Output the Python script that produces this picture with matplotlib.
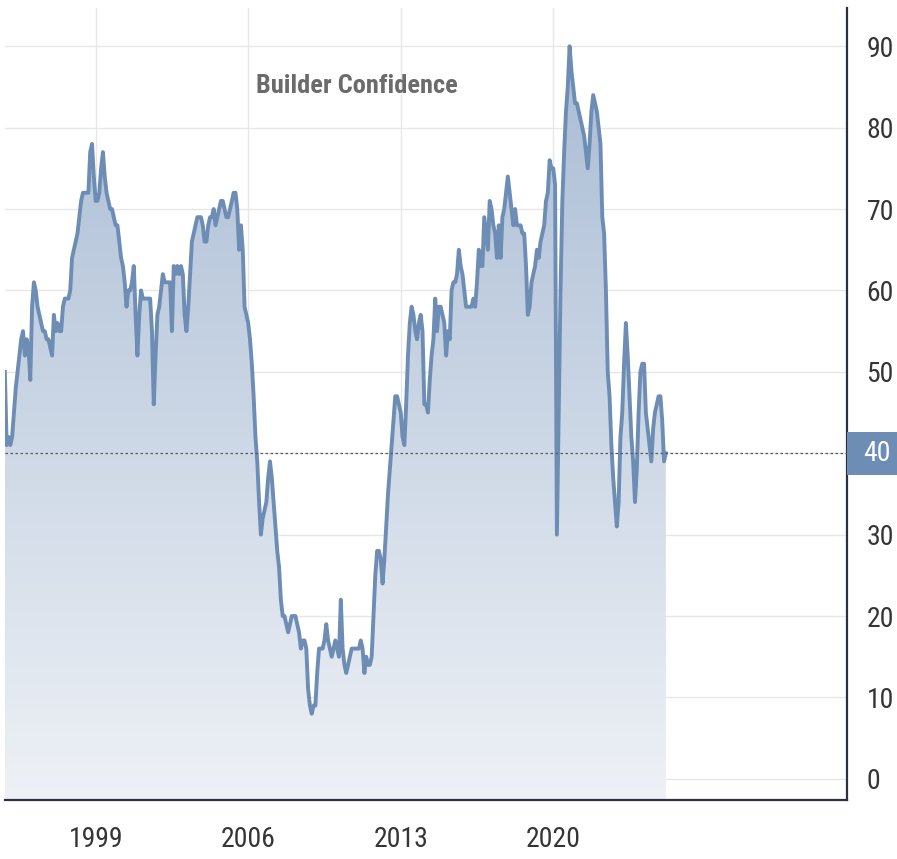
import numpy as np
import matplotlib
matplotlib.use("Agg")
import matplotlib.pyplot as plt
from matplotlib import font_manager
from matplotlib.colors import LinearSegmentedColormap
from matplotlib.patches import Rectangle
import matplotlib.transforms as mtransforms

# NAHB builder confidence, monthly, Nov 1994 .. Mar 2025
start_year = 1994
start_month = 11
hmi_1994 = [50, 41]
hmi_1995 = [42, 41, 42, 45, 48, 50, 52, 54, 55, 52, 54, 53]
hmi_1996 = [49, 58, 61, 60, 58, 57, 56, 55, 55, 54, 54, 53]
hmi_1997 = [52, 57, 55, 56, 55, 55, 58, 59, 59, 59, 60, 64]
hmi_1998 = [65, 66, 67, 69, 71, 72, 72, 72, 72, 77, 78, 74]
hmi_1999 = [71, 71, 72, 75, 77, 74, 72, 71, 70, 70, 69, 68]
hmi_2000 = [68, 66, 64, 63, 61, 58, 60, 60, 61, 63, 57, 52]
hmi_2001 = [57, 60, 59, 59, 59, 59, 59, 55, 46, 52, 57, 58]
hmi_2002 = [60, 62, 61, 61, 61, 61, 55, 63, 62, 63, 62, 63]
hmi_2003 = [62, 57, 55, 58, 62, 66, 67, 68, 69, 69, 69, 68]
hmi_2004 = [66, 66, 68, 69, 69, 70, 68, 69, 70, 71, 71, 70]
hmi_2005 = [69, 69, 70, 71, 72, 72, 70, 65, 68, 65, 58, 57]
hmi_2006 = [56, 54, 51, 47, 42, 39, 34, 30, 32, 33, 34, 37]
hmi_2007 = [39, 37, 34, 31, 28, 26, 22, 20, 20, 19, 18, 19]
hmi_2008 = [20, 20, 20, 19, 18, 16, 17, 17, 16, 11, 9, 8]
hmi_2009 = [9, 9, 13, 16, 16, 16, 17, 19, 17, 16, 15, 16]
hmi_2010 = [17, 16, 15, 22, 16, 14, 13, 14, 15, 16, 16, 16]
hmi_2011 = [16, 16, 17, 16, 13, 15, 14, 14, 15, 20, 25, 28]
hmi_2012 = [28, 27, 24, 27, 31, 35, 38, 41, 44, 47, 47, 46]
hmi_2013 = [45, 42, 41, 46, 52, 56, 58, 57, 55, 54, 56, 57]
hmi_2014 = [55, 46, 46, 45, 49, 52, 54, 59, 55, 58, 58, 57]
hmi_2015 = [56, 52, 55, 54, 60, 61, 61, 62, 65, 63, 62, 60]
hmi_2016 = [58, 58, 58, 58, 59, 58, 61, 65, 63, 63, 69, 67]
hmi_2017 = [65, 71, 70, 68, 67, 64, 68, 64, 69, 70, 72, 74]
hmi_2018 = [72, 70, 68, 70, 68, 68, 68, 67, 67, 63, 57, 58]
hmi_2019 = [61, 62, 63, 65, 64, 66, 67, 68, 71, 72, 76, 75]
hmi_2020 = [75, 73, 30, 45, 60, 71, 77, 82, 85, 90, 87, 85]
hmi_2021 = [83, 83, 82, 81, 80, 79, 77, 75, 78, 82, 84, 83]
hmi_2022 = [82, 80, 78, 69, 67, 60, 50, 47, 41, 37, 34, 31]
hmi_2023 = [34, 42, 45, 51, 56, 52, 47, 42, 39, 34, 38, 45]
hmi_2024 = [50, 51, 51, 45, 43, 41, 39, 43, 45, 46, 47, 47]
hmi_2025 = [44, 39, 40]

last_value = 40
year_ticks = [1999, 2006, 2013, 2020]
value_ticks = [0, 10, 20, 30, 40, 50, 60, 70, 80, 90]
title = "Builder Confidence"

values = np.array(hmi_1994 + hmi_1995 + hmi_1996 + hmi_1997 + hmi_1998 + hmi_1999
                  + hmi_2000 + hmi_2001 + hmi_2002 + hmi_2003 + hmi_2004 + hmi_2005
                  + hmi_2006 + hmi_2007 + hmi_2008 + hmi_2009 + hmi_2010 + hmi_2011
                  + hmi_2012 + hmi_2013 + hmi_2014 + hmi_2015 + hmi_2016 + hmi_2017
                  + hmi_2018 + hmi_2019 + hmi_2020 + hmi_2021 + hmi_2022 + hmi_2023
                  + hmi_2024 + hmi_2025, dtype=float)
t = start_year + (start_month - 1) / 12 + np.arange(len(values)) / 12

# the original uses a narrow face; take whatever condensed font is around
fonts = font_manager.fontManager.ttflist
names = {f.name for f in fonts}
stretch = "normal"
if "Roboto Condensed" in names:
    family = "Roboto Condensed"
elif "Liberation Sans Narrow" in names:
    family = "Liberation Sans Narrow"
elif any(f.name == "DejaVu Sans" and "ondensed" in str(f.stretch) for f in fonts):
    family, stretch = "DejaVu Sans", "condensed"
else:
    family = "Roboto" if "Roboto" in names else "DejaVu Sans"
plt.rcParams["font.family"] = [family, "DejaVu Sans"]
plt.rcParams["font.stretch"] = stretch
lab_size = 20 if family != "Roboto" else 18

line_col = "#6d8db5"
xmin, xmax = 1994.84, 2033.48
ymin, ymax = -2.6, 94.7

fig = plt.figure(figsize=(8.97, 8.59), dpi=100)
ax = fig.add_axes([5 / 897, 59 / 859, 842 / 897, 792 / 859])

ax.set_xlim(xmin, xmax)
ax.set_ylim(ymin, ymax)

# gradient area under the line
fill = ax.fill_between(t, values, ymin, facecolor="none", edgecolor="none")
cmap = LinearSegmentedColormap.from_list("area", ["#eef1f6", "#a6bad3"])
grad = np.linspace(0, 1, 256).reshape(-1, 1)
im = ax.imshow(grad, cmap=cmap, origin="lower", aspect="auto",
               extent=[xmin, xmax, ymin, ymax], zorder=1)
im.set_clip_path(fill.get_paths()[0], transform=ax.transData)

ax.plot(t, values, color=line_col, lw=2.8, solid_joinstyle="round", zorder=3)

ax.axhline(last_value, color="#555a66", lw=0.9, ls=(0, (2, 2)), zorder=4)

ax.set_xticks(year_ticks)
ax.set_xticklabels([str(y) for y in year_ticks])
ax.set_yticks(value_ticks)
# the 40 label sits under the last-value box
ax.set_yticklabels(["" if v == last_value else str(v) for v in value_ticks])
ax.yaxis.tick_right()
ax.grid(True, color="#e7e7e7", lw=1)
ax.set_axisbelow(True)
ax.tick_params(axis="both", length=0, labelsize=lab_size, labelcolor="#353535")
ax.tick_params(axis="x", pad=19)
ax.tick_params(axis="y", pad=14)

for s in ["left", "top"]:
    ax.spines[s].set_visible(False)
for s in ["right", "bottom"]:
    ax.spines[s].set_color("#2d3040")
    ax.spines[s].set_linewidth(1.6)

# last value marker on the axis
trans = mtransforms.blended_transform_factory(ax.transAxes, ax.transData)
ax.add_patch(Rectangle((1.0, last_value - 2.65), 0.06, 5.3, transform=trans,
                       facecolor=line_col, edgecolor="none", clip_on=False, zorder=5))
ax.text(1.0 + 16 / 842, last_value, str(last_value), transform=trans, color="white",
        fontsize=lab_size, ha="left", va="center", zorder=6)

ax.text(0.418, 0.902, title, transform=ax.transAxes, fontsize=19, fontweight="bold",
        color="#6b6b6b", ha="center", va="center")

fig.savefig("out.png", dpi=100, facecolor="white")
